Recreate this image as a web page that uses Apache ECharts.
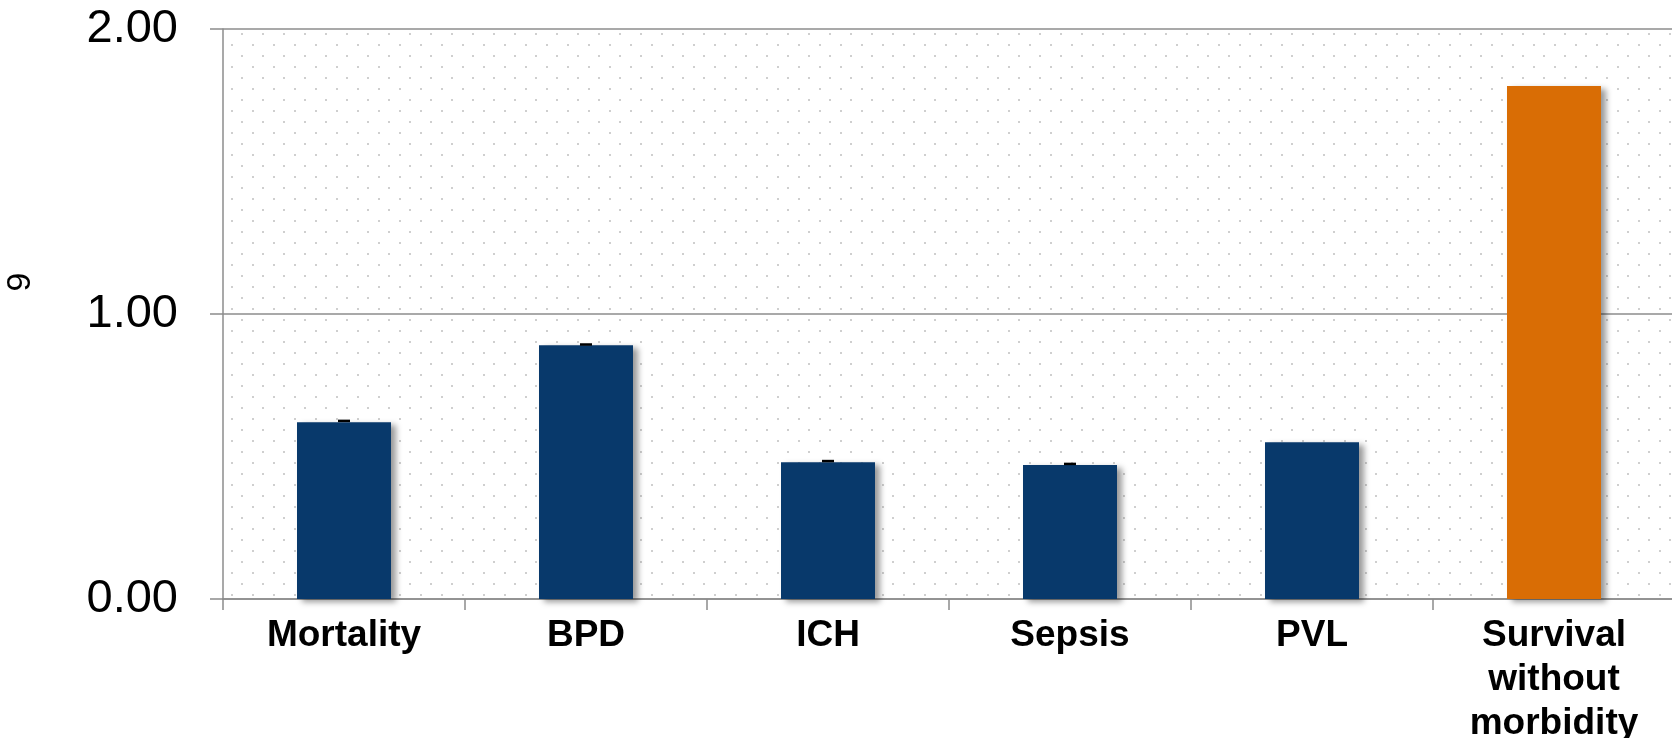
<!DOCTYPE html>
<html>
<head>
<meta charset="utf-8">
<script src="https://cdn.jsdelivr.net/npm/echarts@6/dist/echarts.min.js"></script>
<style>
  html, body { margin: 0; padding: 0; background: #fff; }
  #chart { width: 1672px; height: 738px; }
</style>
</head>
<body>
<div id="chart"></div>
<script>
const categories = ['Mortality', 'BPD', 'ICH', 'Sepsis', 'PVL', 'Survival\nwithout\nmorbidity'];
const values = [0.62, 0.89, 0.48, 0.47, 0.55, 1.80];
// tiny error bars seen on top of the first four bars
const errHigh = [0.625, 0.893, 0.484, 0.474, null, null];
const yTicks = [0, 1, 2];

const navy = '#08396b';
const orange = '#d96d05';

// dotted background like the original plot area
function dotPattern() {
  const c = document.createElement('canvas');
  c.width = 21;
  c.height = 22;
  const ctx = c.getContext('2d');
  ctx.fillStyle = '#cfcfcf';
  ctx.fillRect(0, 0, 2, 2);
  ctx.fillRect(10, 11, 2, 2);
  return c;
}

const chart = echarts.init(document.getElementById('chart'));

const option = {
  animation: false,
  grid: {
    left: 223,
    top: 29,
    width: 1452,
    height: 570,
    outerBoundsMode: 'none',
    containLabel: false,
    show: true,
    borderWidth: 0,
    backgroundColor: { image: dotPattern(), repeat: 'repeat' }
  },
  graphic: [
    {
      type: 'text',
      x: 21,
      y: 282,
      rotation: Math.PI / 2,
      style: {
        text: '9',
        font: '34px "Liberation Sans", Arial, sans-serif',
        fill: '#000',
        align: 'center',
        verticalAlign: 'middle'
      }
    }
  ],
  xAxis: {
    type: 'category',
    data: categories,
    axisLine: { show: true, lineStyle: { color: '#8c8c8c', width: 1.5 } },
    axisTick: { show: true, length: 11, interval: 0, lineStyle: { color: '#8c8c8c', width: 1.5 } },
    axisLabel: {
      interval: 0,
      margin: 15,
      color: '#000',
      fontSize: 37,
      fontWeight: 'bold',
      lineHeight: 44,
      fontFamily: '"Liberation Sans", Arial, sans-serif'
    }
  },
  yAxis: {
    type: 'value',
    min: yTicks[0],
    max: yTicks[yTicks.length - 1],
    interval: 1,
    axisLine: { show: true, lineStyle: { color: '#8c8c8c', width: 1.5 } },
    axisTick: { show: true, length: 13, lineStyle: { color: '#8c8c8c', width: 1.5 } },
    splitLine: { show: true, lineStyle: { color: '#8c8c8c', width: 1.5 } },
    axisLabel: {
      margin: 45,
      color: '#000',
      fontSize: 47,
      fontFamily: '"Liberation Sans", Arial, sans-serif',
      formatter: v => v.toFixed(2)
    }
  },
  series: [
    {
      type: 'bar',
      barWidth: 94,
      data: values.map((v, i) => ({
        value: v,
        itemStyle: { color: i === values.length - 1 ? orange : navy }
      })),
      itemStyle: {
        shadowColor: 'rgba(0,0,0,0.4)',
        shadowBlur: 6,
        shadowOffsetX: 5,
        shadowOffsetY: 3
      }
    },
    {
      type: 'custom',
      data: errHigh.map((v, i) => [i, v]).filter(d => d[1] !== null),
      renderItem: (params, api) => {
        const p = api.coord([api.value(0), api.value(1)]);
        return {
          type: 'line',
          shape: { x1: p[0] - 6, y1: p[1], x2: p[0] + 6, y2: p[1] },
          style: { stroke: '#000', lineWidth: 2.5 }
        };
      },
      z: 5
    }
  ]
};

chart.setOption(option);
</script>
</body>
</html>
